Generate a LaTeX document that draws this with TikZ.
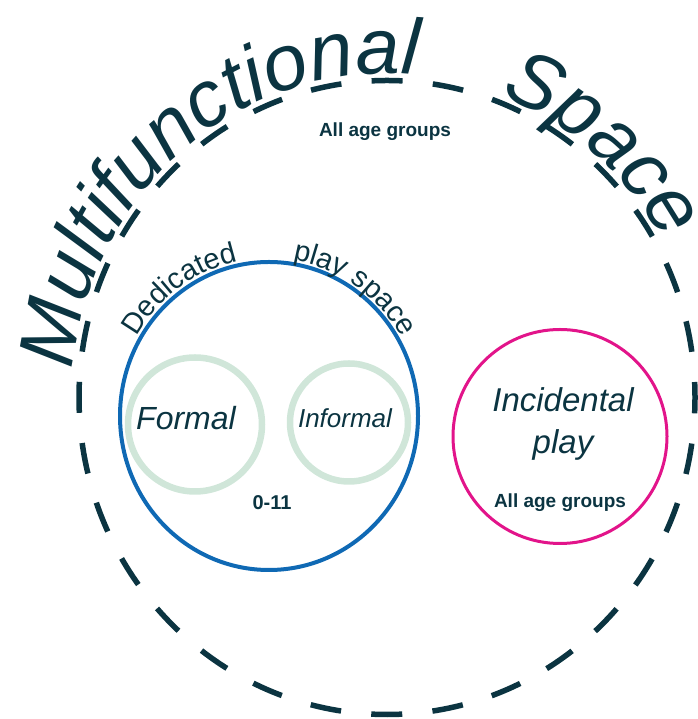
\documentclass[tikz,border=0pt]{standalone}
\usepackage{fontspec}
\setmainfont{Liberation Sans}
\usetikzlibrary{decorations.text}
\definecolor{ink}{HTML}{0B3441}
\definecolor{pblue}{HTML}{0F69B4}
\definecolor{ppink}{HTML}{E2148A}
\definecolor{pgreen}{HTML}{D0E6D9}
\newcommand{\titlefmt}{\fontsize{79}{79}\selectfont\itshape\color{ink}}
\newcommand{\arcfmt}{\fontsize{29}{29}\selectfont\color{ink}}
\begin{document}
\begin{tikzpicture}[x=1pt,y=1pt,
  labeltext/.style={text=ink, inner sep=0pt, anchor=base},
  bigital/.style={labeltext, font=\fontsize{33}{33}\selectfont\itshape},
  agegroup/.style={labeltext, font=\fontsize{19}{19}\selectfont\bfseries},
  arctext/.style={decorate, decoration={text along path, text align=left, text={#1}}},
  outerring/.style={ink, line width=5.5pt, dash pattern=on 31pt off 30.36pt, dash phase=15.5pt},
  playring/.style={pblue, line width=4pt},
  subring/.style={pgreen, line width=6.5pt},
  incring/.style={ppink, line width=3pt}]
\useasboundingbox (0,0) rectangle (697,719);

% centres
\coordinate (bigc) at (387,321.5);
\coordinate (bluec) at (269,303);
\coordinate (formc) at (195,294.5);
\coordinate (infc) at (349,296.5);
\coordinate (pinkc) at (560,282.5);

% rings
\draw[outerring] (bigc) circle[x radius=308pt, y radius=317pt];
\draw[playring] (bluec) circle[x radius=149pt, y radius=154pt];
\draw[subring] (formc) circle[radius=67pt];
\draw[subring] (infc) circle[radius=59pt];
\draw[incring] (pinkc) circle[radius=107pt];

% curved titles
\path[arctext={|\titlefmt|Multifunctional}] (bigc) ++(175:315pt and 324pt)
  arc[start angle=175, end angle=55, x radius=315pt, y radius=324pt];
\path[arctext={|\titlefmt|Space}] (bigc) ++(69:315pt and 324pt)
  arc[start angle=69, end angle=-5, x radius=315pt, y radius=324pt];
\path[arctext={|\arcfmt|Dedicated}] (bluec) ++(150:153pt and 158pt)
  arc[start angle=150, end angle=85, x radius=153pt, y radius=158pt];
\path[arctext={|\arcfmt|play space}] (bluec) ++(81:153pt and 158pt)
  arc[start angle=81, end angle=5, x radius=153pt, y radius=158pt];

% labels
\node[agegroup] (alltop) at (385,582) {All age groups};
\node[labeltext, font=\fontsize{20}{20}\selectfont\bfseries] (ages) at (272,209) {0-11};
\node[labeltext, font=\fontsize{32}{32}\selectfont\itshape] (formal) at (186,289) {Formal};
\node[labeltext, font=\fontsize{26}{26}\selectfont\itshape] (informal) at (345,291) {Informal};
\node[bigital] (incid) at (563,307) {Incidental};
\node[bigital] (incplay) at (563,265) {play};
\node[agegroup] (allpink) at (560,211) {All age groups};
\end{tikzpicture}
\end{document}
